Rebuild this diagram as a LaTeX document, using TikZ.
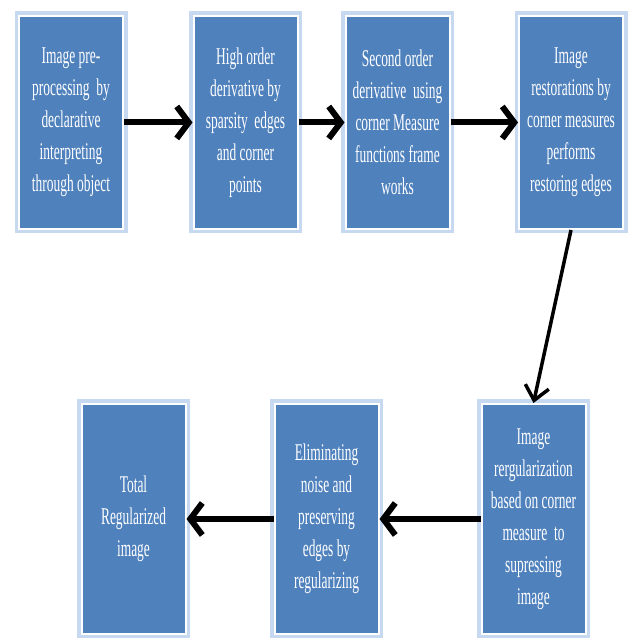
\documentclass[tikz,border=0pt]{standalone}
\usepackage{fontspec}
\setmainfont[FakeStretch=0.56]{Liberation Serif}
\usetikzlibrary{positioning,arrows.meta}
\definecolor{colorbox}{HTML}{4F81BD}
\definecolor{colorframe}{HTML}{C6D9F1}
\tikzset{
  stage/.style={fill=colorbox, draw=white, line width=2pt,
    preaction={draw=colorframe, line width=9pt},
    text=white, align=center, inner sep=0pt,
    font=\fontsize{24}{32}\selectfont,
    minimum width=104pt, minimum height=213pt},
  stagetall/.style={stage, minimum height=230pt},
  edgeflow/.style={black, line width=6pt, -{Straight Barb[length=12pt,width=32pt]}},
  edgedown/.style={black, line width=3.5pt, -{Straight Barb[length=14pt,width=24pt]}}
}

\begin{document}
\begin{tikzpicture}[x=1pt, y=1pt]
\useasboundingbox (0,0) rectangle (632,643);

\node[stage](pre) at (71,520.5)
{Image pre-\\processing\ \ by\\declarative\\interpreting\\through object};

\node[stage](high) at (245.5,520.5)
{High order\\derivative by\\sparsity\ \ edges\\and corner\\points};

\node[stage](second) at (397.5,520.5)
{Second order\\derivative\ \ using\\corner Measure\\functions frame\\works};

\node[stage](restore) at (571,520.5)
{Image\\restorations by\\corner measures\\performs\\restoring edges};

\node[stagetall](regul) at (533.5,124)
{Image\\rergularization\\based on corner\\measure\ \ to\\supressing\\image};

\node[stagetall](elim) at (326.5,124)
{Eliminating\\noise and\\preserving\\edges by\\regularizing};

\node[stagetall](total) at (133.5,124)
{Total\\Regularized\\image};

\draw[edgeflow] (pre) -- (high);
\draw[edgeflow] (high) -- (second);
\draw[edgeflow] (second) -- (restore);
\draw[edgedown] (restore.south) -- (regul.north);
\draw[edgeflow] (regul) -- (elim);
\draw[edgeflow] (elim) -- (total);
\end{tikzpicture}
\end{document}
